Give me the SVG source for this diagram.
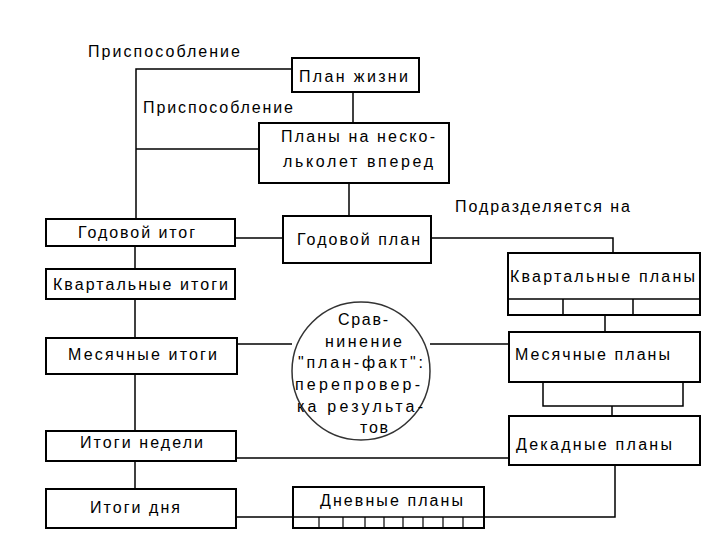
<svg xmlns="http://www.w3.org/2000/svg" width="720" height="540" viewBox="0 0 720 540">
<style>
.box{fill:#fff;stroke:#000;stroke-width:2}
.ln{fill:none;stroke:#000;stroke-width:1.5}
.thin{fill:none;stroke:#000;stroke-width:1.2}
text{font-family:"Liberation Sans","DejaVu Sans",sans-serif;font-size:16px;fill:#000}
</style>
<rect width="720" height="540" fill="#fff"/>
<g id="connectors">
<polyline class="ln" points="292,69 136,69 136,219"/>
<line class="ln" x1="136" y1="149" x2="259" y2="149"/>
<line class="ln" x1="353" y1="92" x2="353" y2="123"/>
<line class="ln" x1="349" y1="183" x2="349" y2="216"/>
<line class="ln" x1="235" y1="238" x2="283" y2="238"/>
<polyline class="ln" points="431,238 613,238 613,253"/>
<line class="ln" x1="135" y1="246" x2="135" y2="269"/>
<line class="ln" x1="135" y1="299" x2="135" y2="338"/>
<line class="ln" x1="135" y1="374" x2="135" y2="431"/>
<line class="ln" x1="135" y1="461" x2="135" y2="489"/>
<line class="ln" x1="605" y1="315" x2="605" y2="332"/>
<line class="ln" x1="237" y1="344" x2="292" y2="344"/>
<line class="ln" x1="430" y1="344" x2="509" y2="344"/>
<polyline class="ln" points="543,382 543,406 683,406 683,382"/>
<line class="ln" x1="612" y1="406" x2="612" y2="416"/>
<line class="ln" x1="236" y1="458" x2="509" y2="458"/>
<polyline class="ln" points="236,517 615,517 615,465"/>
</g>
<g id="label-adapt1"><text x="88" y="57" textLength="152" lengthAdjust="spacing">Приспособление</text></g>
<g id="label-adapt2"><text x="143" y="113" textLength="150" lengthAdjust="spacing">Приспособление</text></g>
<g id="label-divide"><text x="455" y="212" textLength="175" lengthAdjust="spacing">Подразделяется на</text></g>
<g id="life-plan">
<rect class="box" x="292" y="58" width="127" height="34"/>
<text x="299" y="82" textLength="109" lengthAdjust="spacing">План жизни</text>
</g>
<g id="multi-year">
<rect class="box" x="259" y="123" width="190" height="60"/>
<text x="281" y="142" textLength="154" lengthAdjust="spacing">Планы на неско-</text>
<text x="283" y="167" textLength="150" lengthAdjust="spacing">льколет вперед</text>
</g>
<g id="year-plan">
<rect class="box" x="283" y="216" width="148" height="47"/>
<text x="297" y="245" textLength="123" lengthAdjust="spacing">Годовой план</text>
</g>
<g id="year-result">
<rect class="box" x="46" y="219" width="189" height="27"/>
<text x="78" y="238" textLength="117" lengthAdjust="spacing">Годовой итог</text>
</g>
<g id="quarter-results">
<rect class="box" x="46" y="269" width="189" height="30"/>
<text x="53" y="290" textLength="175" lengthAdjust="spacing">Квартальные итоги</text>
</g>
<g id="month-results">
<rect class="box" x="46" y="338" width="191" height="36"/>
<text x="68" y="360" textLength="149" lengthAdjust="spacing">Месячные итоги</text>
</g>
<g id="week-results">
<rect class="box" x="46" y="431" width="190" height="30"/>
<text x="80" y="448" textLength="123" lengthAdjust="spacing">Итоги недели</text>
</g>
<g id="day-results">
<rect class="box" x="46" y="489" width="190" height="39"/>
<text x="90" y="513" textLength="90" lengthAdjust="spacing">Итоги дня</text>
</g>
<g id="quarter-plans">
<rect class="box" x="508" y="253" width="192" height="62"/>
<line class="ln" x1="508" y1="299" x2="700" y2="299"/>
<line class="ln" x1="563" y1="299" x2="563" y2="315"/>
<line class="ln" x1="633" y1="299" x2="633" y2="315"/>
<text x="510" y="282" textLength="185" lengthAdjust="spacing">Квартальные планы</text>
</g>
<g id="month-plans">
<rect class="box" x="509" y="332" width="191" height="50"/>
<text x="515" y="360" textLength="155" lengthAdjust="spacing">Месячные планы</text>
</g>
<g id="decade-plans">
<rect class="box" x="509" y="416" width="191" height="49"/>
<text x="516" y="450" textLength="156" lengthAdjust="spacing">Декадные планы</text>
</g>
<g id="day-plans">
<rect class="box" x="293" y="487" width="191" height="41"/>
<line class="ln" x1="293" y1="517" x2="484" y2="517"/>
<g class="thin">
<line x1="319" y1="517" x2="319" y2="528"/>
<line x1="343" y1="517" x2="343" y2="528"/>
<line x1="365" y1="517" x2="365" y2="528"/>
<line x1="384" y1="517" x2="384" y2="528"/>
<line x1="403" y1="517" x2="403" y2="528"/>
<line x1="423" y1="517" x2="423" y2="528"/>
<line x1="443" y1="517" x2="443" y2="528"/>
<line x1="463" y1="517" x2="463" y2="528"/>
</g>
<text x="320" y="506" textLength="143" lengthAdjust="spacing">Дневные планы</text>
</g>
<g id="comparison">
<circle cx="361" cy="371" r="69" fill="#fff" stroke="#333" stroke-width="1.5"/>
<text x="338" y="325" textLength="50" lengthAdjust="spacing">Срав-</text>
<text x="325" y="347" textLength="77" lengthAdjust="spacing">нинение</text>
<text x="298" y="368" textLength="125" lengthAdjust="spacing">"план-факт":</text>
<text x="295" y="390" textLength="125" lengthAdjust="spacing">перепровер-</text>
<text x="297" y="412" textLength="126" lengthAdjust="spacing">ка результа-</text>
<text x="360" y="433" textLength="28" lengthAdjust="spacing">тов</text>
</g>
</svg>
